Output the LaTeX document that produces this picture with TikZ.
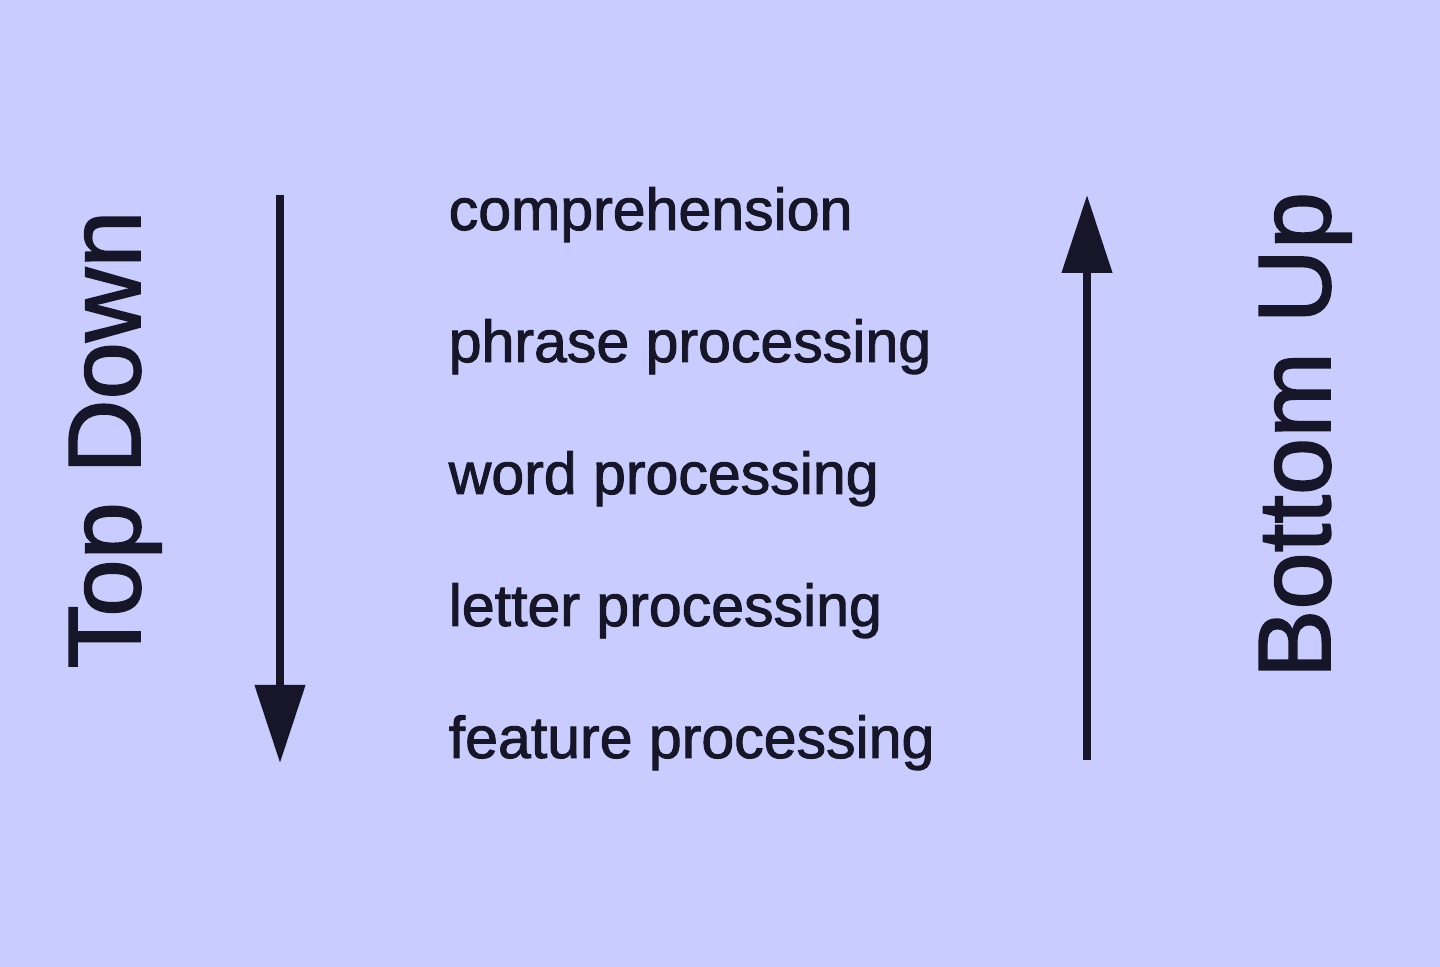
\documentclass[tikz,border=0pt]{standalone}
\usepackage{fontspec}
\setmainfont{Liberation Sans}
\newfontfamily\heavysans[FakeBold=1.6]{Liberation Sans}
\usepackage{tikz}
\usetikzlibrary{arrows.meta}

\definecolor{bgblue}{RGB}{200,204,254}
\definecolor{inkdark}{RGB}{22,22,40}

\tikzset{
    level/.style={anchor=base west, inner sep=0pt, text=inkdark, font=\heavysans\fontsize{16.8}{18}\selectfont},
    side/.style={anchor=base west, inner sep=0pt, rotate=90, text=inkdark, font=\heavysans\fontsize{29.3}{32}\selectfont},
    flow/.style={draw=inkdark, line width=0.075cm, -{Triangle[length=0.78cm, width=0.49cm]}}
}

\begin{document}
\begin{tikzpicture}[line width=1pt]
            % draw background
            \fill[bgblue] (0, 0) rectangle (14.40, 9.67);
            \useasboundingbox (0, 0) rectangle (14.40, 9.67);

            % draw side labels
            \node[side] (topdown)  at (1.40, 2.97) {Top Down};
            \node[side] (bottomup) at (13.30, 2.87) {Bottom Up};

            % draw processing levels
            \node[level] (comprehension) at (4.47, 7.37) {comprehension};
            \node[level] (phrase)        at (4.47, 6.05) {phrase processing};
            \node[level] (word)          at (4.47, 4.73) {word processing};
            \node[level] (letter)        at (4.47, 3.41) {letter processing};
            \node[level] (feature)       at (4.47, 2.09) {feature processing};

            % draw arrows
            \coordinate (downstart) at (2.80, 7.72);
            \coordinate (downend)   at (2.80, 2.04);
            \coordinate (upstart)   at (10.87, 2.07);
            \coordinate (upend)     at (10.87, 7.72);
            \draw[flow] (downstart) -- (downend);
            \draw[flow] (upstart) -- (upend);
        \end{tikzpicture}
\end{document}
